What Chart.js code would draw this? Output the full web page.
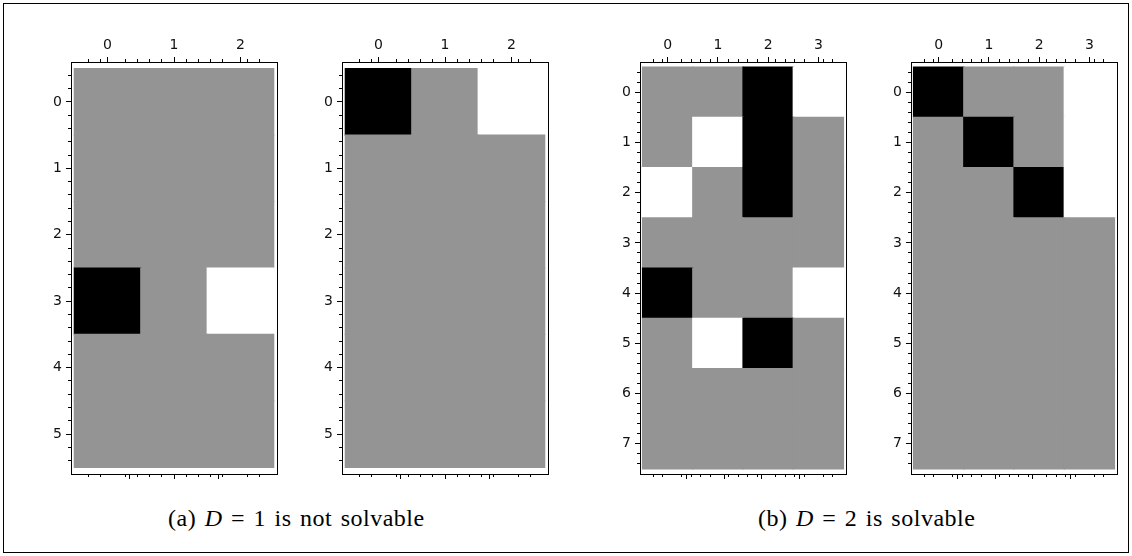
<!DOCTYPE html>
<html>
<head>
<meta charset="utf-8">
<script src="https://cdn.jsdelivr.net/npm/chart.js@4.4.1/dist/chart.umd.min.js"></script>
<style>
  html, body { margin: 0; padding: 0; background: #fff; }
  body { width: 1132px; height: 556px; position: relative; overflow: hidden; }
  #frame { position: absolute; left: 3px; top: 3px; width: 1126px; height: 550px; box-sizing: border-box; border: 1px solid #000; }
  canvas { position: absolute; top: 10px; }
  .caption { position: absolute; top: 505px; font-family: "Liberation Serif", serif; font-size: 24px; color: #000; white-space: nowrap; word-spacing: 2px; letter-spacing: 0.5px; }
</style>
</head>
<body>
<div id="frame"></div>
<canvas id="mA1" width="266" height="480" style="left:21px"></canvas>
<canvas id="mA2" width="266" height="480" style="left:292px"></canvas>
<canvas id="mB1" width="266" height="480" style="left:590px"></canvas>
<canvas id="mB2" width="266" height="480" style="left:861px"></canvas>
<div class="caption" style="left:168px">(a) <i>D</i> = 1 is not solvable</div>
<div class="caption" style="left:758px">(b) <i>D</i> = 2 is solvable</div>

<script>
// cell codes: -1 = black, 0 = grey, 1 = white
const gridA1 = [
  [0, 0, 0],
  [0, 0, 0],
  [0, 0, 0],
  [-1, 0, 1],
  [0, 0, 0],
  [0, 0, 0]
];
const gridA2 = [
  [-1, 0, 1],
  [0, 0, 0],
  [0, 0, 0],
  [0, 0, 0],
  [0, 0, 0],
  [0, 0, 0]
];
const gridB1 = [
  [0, 0, -1, 1],
  [0, 1, -1, 0],
  [1, 0, -1, 0],
  [0, 0, 0, 0],
  [-1, 0, 0, 1],
  [0, 1, -1, 0],
  [0, 0, 0, 0],
  [0, 0, 0, 0]
];
const gridB2 = [
  [-1, 0, 0, 1],
  [0, -1, 0, 1],
  [0, 0, -1, 1],
  [0, 0, 0, 0],
  [0, 0, 0, 0],
  [0, 0, 0, 0],
  [0, 0, 0, 0],
  [0, 0, 0, 0]
];

const colTicks3 = [0, 1, 2];
const colTicks4 = [0, 1, 2, 3];
const rowTicks6 = [0, 1, 2, 3, 4, 5];
const rowTicks8 = [0, 1, 2, 3, 4, 5, 6, 7];

const shade = { '-1': '#000000', '0': '#949494', '1': '#ffffff' };

Chart.defaults.font.family = 'DejaVu Sans';

// minor ticks every 0.2 between the axis ends, skipping the integer ones
function minorTicks(lo, hi) {
  const out = [];
  for (let k = Math.floor(lo * 5) + 1; k <= Math.ceil(hi * 5) - 1; k++) {
    if (k % 5 !== 0) out.push({ value: k / 5 });
  }
  return out;
}

function tickMarks(len) {
  return { display: true, drawOnChartArea: false, drawTicks: true, tickLength: len, color: '#000', lineWidth: 1, offset: false };
}

const frameLine = { display: true, color: '#000', width: 1 };
const labelFont = { family: 'DejaVu Sans', size: 14 };

function matrixChart(id, grid, colTicks, rowTicks) {
  const xMin = -0.55, xMax = colTicks.length - 0.45;
  const yMin = -0.6, yMax = rowTicks.length - 0.4;

  const cells = [], colours = [];
  grid.forEach((row, r) => row.forEach((code, c) => {
    cells.push({ x: c, y: [r - 0.5, r + 0.5] });
    colours.push(shade[code]);
  }));

  const major = vals => axis => { axis.ticks = vals.map(v => ({ value: v })); };
  const minor = (lo, hi) => axis => { axis.ticks = minorTicks(lo, hi); };

  new Chart(document.getElementById(id), {
    type: 'bar',
    data: {
      datasets: [{
        data: cells,
        backgroundColor: colours,
        borderWidth: 0,
        inflateAmount: 0.6,   // close the hairline seams between neighbouring cells
        categoryPercentage: 1,
        barPercentage: 1,
        xAxisID: 'x',
        yAxisID: 'y'
      }]
    },
    options: {
      responsive: false,
      animation: false,
      events: [],
      layout: { padding: 0 },
      plugins: { legend: { display: false }, tooltip: { enabled: false } },
      scales: {
        x: {
          type: 'linear', position: 'top', weight: 1, min: xMin, max: xMax, offset: false,
          afterBuildTicks: major(colTicks),
          afterFit: a => { a.height = 52; },
          grid: tickMarks(5), border: frameLine,
          ticks: { autoSkip: false, maxRotation: 0, padding: 3, color: '#111', font: labelFont, callback: v => String(v) }
        },
        xTopMinor: {
          type: 'linear', position: 'top', weight: 0, min: xMin, max: xMax,
          afterBuildTicks: minor(xMin, xMax),
          afterFit: a => { a.height = 0; },
          grid: tickMarks(3), border: { display: false }, ticks: { display: false }
        },
        xBottom: {
          type: 'linear', position: 'bottom', weight: 1, min: xMin, max: xMax,
          afterBuildTicks: major(colTicks),
          afterFit: a => { a.height = 16; },
          grid: tickMarks(5), border: frameLine, ticks: { display: false }
        },
        xBottomMinor: {
          type: 'linear', position: 'bottom', weight: 0, min: xMin, max: xMax,
          afterBuildTicks: minor(xMin, xMax),
          afterFit: a => { a.height = 0; },
          grid: tickMarks(3), border: { display: false }, ticks: { display: false }
        },
        y: {
          type: 'linear', position: 'left', weight: 1, reverse: true, min: yMin, max: yMax,
          afterBuildTicks: major(rowTicks),
          afterFit: a => { a.width = 50; },
          grid: tickMarks(5), border: frameLine,
          ticks: { autoSkip: false, padding: 4, color: '#111', font: labelFont, callback: v => String(v) }
        },
        yLeftMinor: {
          type: 'linear', position: 'left', weight: 0, reverse: true, min: yMin, max: yMax,
          afterBuildTicks: minor(yMin, yMax),
          afterFit: a => { a.width = 0; },
          grid: tickMarks(3), border: { display: false }, ticks: { display: false }
        },
        yRight: {
          type: 'linear', position: 'right', reverse: true, min: yMin, max: yMax,
          afterFit: a => { a.width = 10; },
          grid: { display: false }, border: frameLine, ticks: { display: false }
        }
      }
    }
  });
}

matrixChart('mA1', gridA1, colTicks3, rowTicks6);
matrixChart('mA2', gridA2, colTicks3, rowTicks6);
matrixChart('mB1', gridB1, colTicks4, rowTicks8);
matrixChart('mB2', gridB2, colTicks4, rowTicks8);
</script>
</body>
</html>
